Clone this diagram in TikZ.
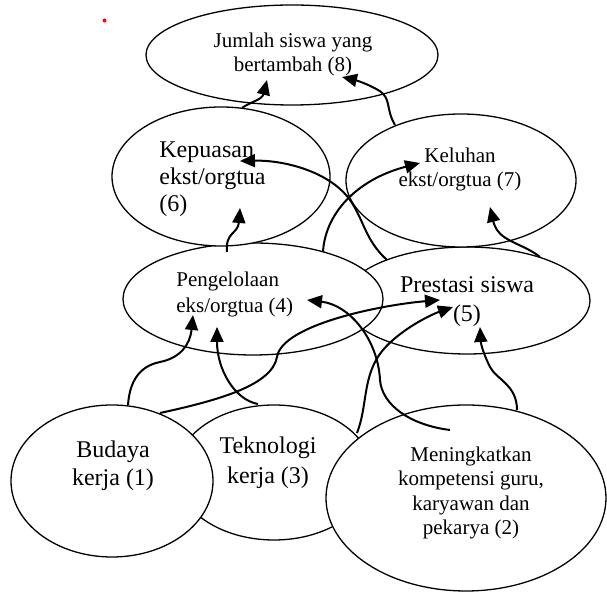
\documentclass[tikz,border=0pt]{standalone}
\usepackage{fontspec}
\setmainfont{Liberation Serif}
\usetikzlibrary{shapes.geometric,arrows.meta}

\begin{document}
\begin{tikzpicture}[x=0.5pt,y=-0.5pt,
  oval/.style={draw, ellipse, fill=white, line width=0.65pt, inner sep=0pt, outer sep=0pt},
  bigtext/.style={font=\fontsize{12}{14}\selectfont, inner sep=0pt},
  smalltext/.style={font=\fontsize{10.5}{12.5}\selectfont, inner sep=0pt},
  link/.style={line width=1pt, -{Triangle[length=7.5pt,width=6.5pt]}}]

\useasboundingbox (0,0) rectangle (607,592);

\fill[red] (104.5,20.5) circle (1pt);

% the ellipses, later ones lie over earlier ones
\node[oval, minimum width=123pt, minimum height=53.5pt] (e5) at (467,300.5) {};
\node[oval, minimum width=130pt, minimum height=56pt] (e4) at (253,299) {};
\node[oval, minimum width=98pt, minimum height=67.5pt] (e3) at (274,472.5) {};
\node[oval, minimum width=101pt, minimum height=76pt] (e1) at (112,481) {};
\node[oval, minimum width=140pt, minimum height=93pt] (e2) at (466,498) {};
\node[oval, minimum width=109pt, minimum height=69.5pt] (e6) at (221,176.5) {};
\node[oval, minimum width=115pt, minimum height=66.5pt] (e7) at (461,180.5) {};
\node[oval, minimum width=146pt, minimum height=50pt] (e8) at (292,55) {};

% the texts
\node[smalltext, align=center, font=\fontsize{10.5}{12}\selectfont] (t8) at (293,54.5) {Jumlah siswa yang\\bertambah (8)};
\node[bigtext, align=left, anchor=west, font=\fontsize{12}{13.5}\selectfont] (t6) at (159,179) {Kepuasan\\ekst/orgtua\\(6)};
\node[smalltext, align=center, font=\fontsize{10.5}{12}\selectfont] (t7) at (460,169) {Keluhan\\ekst/orgtua (7)};
\node[smalltext, align=left, anchor=west, font=\fontsize{10.5}{13}\selectfont] (t4) at (176,294) {Pengelolaan\\eks/orgtua (4)};
\node[bigtext, align=center, font=\fontsize{12}{14.5}\selectfont] (t5) at (467,301.5) {Prestasi siswa\\(5)};
\node[bigtext, align=center] (t1) at (113,466) {Budaya\\kerja (1)};
\node[bigtext, align=center, font=\fontsize{12}{15}\selectfont] (t3) at (268,463) {Teknologi\\kerja (3)};
\node[smalltext, align=center, font=\fontsize{10.5}{12.3}\selectfont] (t2) at (471,493) {Meningkatkan\\kompetensi guru,\\karyawan dan\\pekarya (2)};

% the links
\draw[link] ([shift={(21,-68.5)}]e6.center) .. controls (250,102) and (262,100) .. ([shift={(-25,25)}]e8.center);
\draw[link] ([shift={(-66,-55.5)}]e7.center) .. controls (385,108) and (392,98) .. (378,90) .. controls (368,84) and (355,80) .. ([shift={(50,22)}]e8.center);
\draw[link] ([shift={(-26,-47)}]e4.center) .. controls (225,232) and (238,234) .. ([shift={(19,31.5)}]e6.center);
\draw[link] ([shift={(-80,-40.5)}]e5.center) .. controls (365,240) and (364,220) .. (350,200) .. controls (330,172) and (285,160) .. ([shift={(19,-15.5)}]e6.center);
\draw[link] ([shift={(70,-47)}]e4.center) .. controls (325,215) and (355,180) .. ([shift={(-41,-17.5)}]e7.center);
\draw[link] ([shift={(73,-43.5)}]e5.center) .. controls (525,245) and (505,242) .. (497,230) .. controls (493,224) and (492,215) .. ([shift={(29,26.5)}]e7.center);
\draw[link] ([shift={(16,-76)}]e1.center) .. controls (130,375) and (145,365) .. (160,362) .. controls (180,358) and (190,345) .. ([shift={(-60,16)}]e4.center);
\draw[link] ([shift={(-16,-68.5)}]e3.center) .. controls (235,400) and (217,370) .. ([shift={(-36,28)}]e4.center);
\draw[link] ([shift={(48,-68)}]e1.center) .. controls (220,400) and (272,385) .. (277,357) .. controls (282,325) and (380,305) .. ([shift={(-27,-0.5)}]e5.center);
\draw[link] ([shift={(83,-39.5)}]e3.center) .. controls (368,405) and (362,375) .. (383,350) .. controls (400,330) and (430,315) .. ([shift={(-14,6.5)}]e5.center);
\draw[link] ([shift={(-16,-68)}]e2.center) .. controls (410,425) and (382,405) .. (380,380) .. controls (378,340) and (350,305) .. ([shift={(54,1)}]e4.center);
\draw[link] ([shift={(51,-88)}]e2.center) .. controls (517,385) and (497,380) .. (490,367) .. controls (484,355) and (481,345) .. ([shift={(13,26.5)}]e5.center);

\end{tikzpicture}
\end{document}
